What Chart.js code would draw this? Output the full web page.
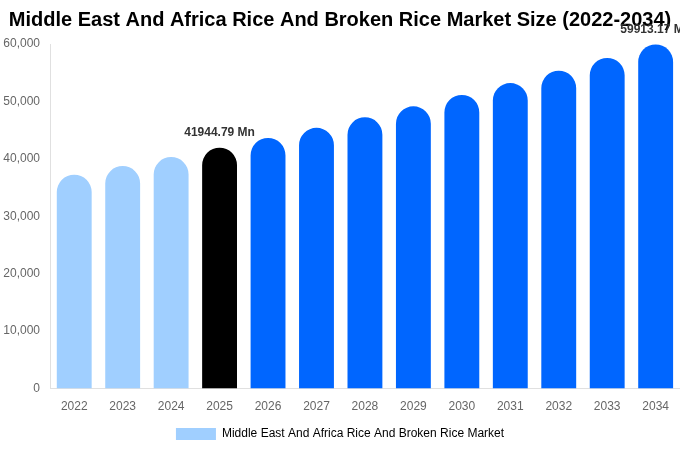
<!DOCTYPE html>
<html>
<head>
<meta charset="utf-8">
<script src="https://cdn.jsdelivr.net/npm/chart.js@4.4.0/dist/chart.umd.min.js"></script>
<style>
    body { margin: 0; background: #fff; }
    .wrap { width: 680px; height: 450px; }
</style>
</head>
<body>
<div class="wrap"><canvas id="chart"></canvas></div>
<script>
// values (Mn)
const years = ['2022', '2023', '2024', '2025', '2026', '2027', '2028', '2029', '2030', '2031', '2032', '2033', '2034']
const marketSize = [37250, 38750, 40320, 41944.79, 43640, 45400, 47240, 49150, 51130, 53200, 55350, 57580, 59913.17]
const yTicks = [0, 10000, 20000, 30000, 40000, 50000, 60000]
const labelled = { 3: '41944.79 Mn', 12: '59913.17 Mn' }

// history light blue, base year black, forecast blue
let barColors = years.map(function(y) {
    let n = parseInt(y)
    if (n < 2025) return '#a0cfff'
    if (n === 2025) return '#000000'
    return '#0066ff'
})

// draws the value text on top of the two bars
const valueLabels = {
    id: 'valueLabels',
    afterDraw(chart) {
        let ctx = chart.ctx
        let bars = chart.getDatasetMeta(0).data
        ctx.save()
        ctx.font = 'bold 12px "Liberation Sans", Arial, sans-serif'
        ctx.fillStyle = '#333333'
        ctx.textAlign = 'center'
        ctx.textBaseline = 'bottom'
        Object.keys(labelled).forEach(function(i) {
            let bar = bars[i]
            ctx.fillText(labelled[i], bar.x, bar.y - 9)
        })
        ctx.restore()
    }
}

let ctx = document.getElementById('chart')

let chartGraph = new Chart(ctx, {
    type: 'bar',
    data: {
        labels: years,
        datasets: [{
            label: 'Middle East And Africa Rice And Broken Rice Market',
            data: marketSize,
            backgroundColor: barColors,
            borderRadius: { topLeft: 18, topRight: 18 },
            borderSkipped: 'bottom',
            categoryPercentage: 0.72,
            barPercentage: 1
        }]
    },
    options: {
        responsive: true,
        maintainAspectRatio: false,
        animation: false,
        layout: { padding: { left: 0, right: 0, top: 0, bottom: 0 } },
        plugins: {
            title: {
                display: true,
                text: 'Middle East And Africa Rice And Broken Rice Market Size (2022-2034)',
                color: '#000',
                font: { size: 20, weight: 'bold', family: '"Liberation Sans", Arial, sans-serif' },
                padding: { top: 8, bottom: 12 }
            },
            legend: {
                position: 'bottom',
                labels: {
                    boxWidth: 40,
                    boxHeight: 12,
                    color: '#666',
                    font: { size: 12, family: '"Liberation Sans", Arial, sans-serif' },
                    generateLabels: function(chart) {
                        return [{
                            text: chart.data.datasets[0].label,
                            fillStyle: '#a0cfff',
                            strokeStyle: '#a0cfff',
                            lineWidth: 0,
                            datasetIndex: 0
                        }]
                    }
                }
            },
            tooltip: { enabled: false }
        },
        scales: {
            x: {
                grid: { display: false, drawTicks: false },
                border: { color: '#e0e0e0' },
                afterFit: function(axis) { axis.height = axis.height - 7 },
                ticks: { color: '#666', font: { size: 12, family: '"Liberation Sans", Arial, sans-serif' }, padding: 11 }
            },
            y: {
                min: 0,
                max: 60000,
                grid: { display: false, drawTicks: false },
                border: { color: '#e0e0e0' },
                afterFit: function(axis) { axis.width = 50 },
                afterBuildTicks: function(axis) {
                    axis.ticks = yTicks.map(function(v) { return { value: v } })
                },
                ticks: {
                    color: '#666',
                    font: { size: 12, family: '"Liberation Sans", Arial, sans-serif' },
                    padding: 10,
                    callback: function(v) { return v.toLocaleString('en-US') }
                }
            }
        }
    },
    plugins: [valueLabels]
});
</script>
</body>
</html>
